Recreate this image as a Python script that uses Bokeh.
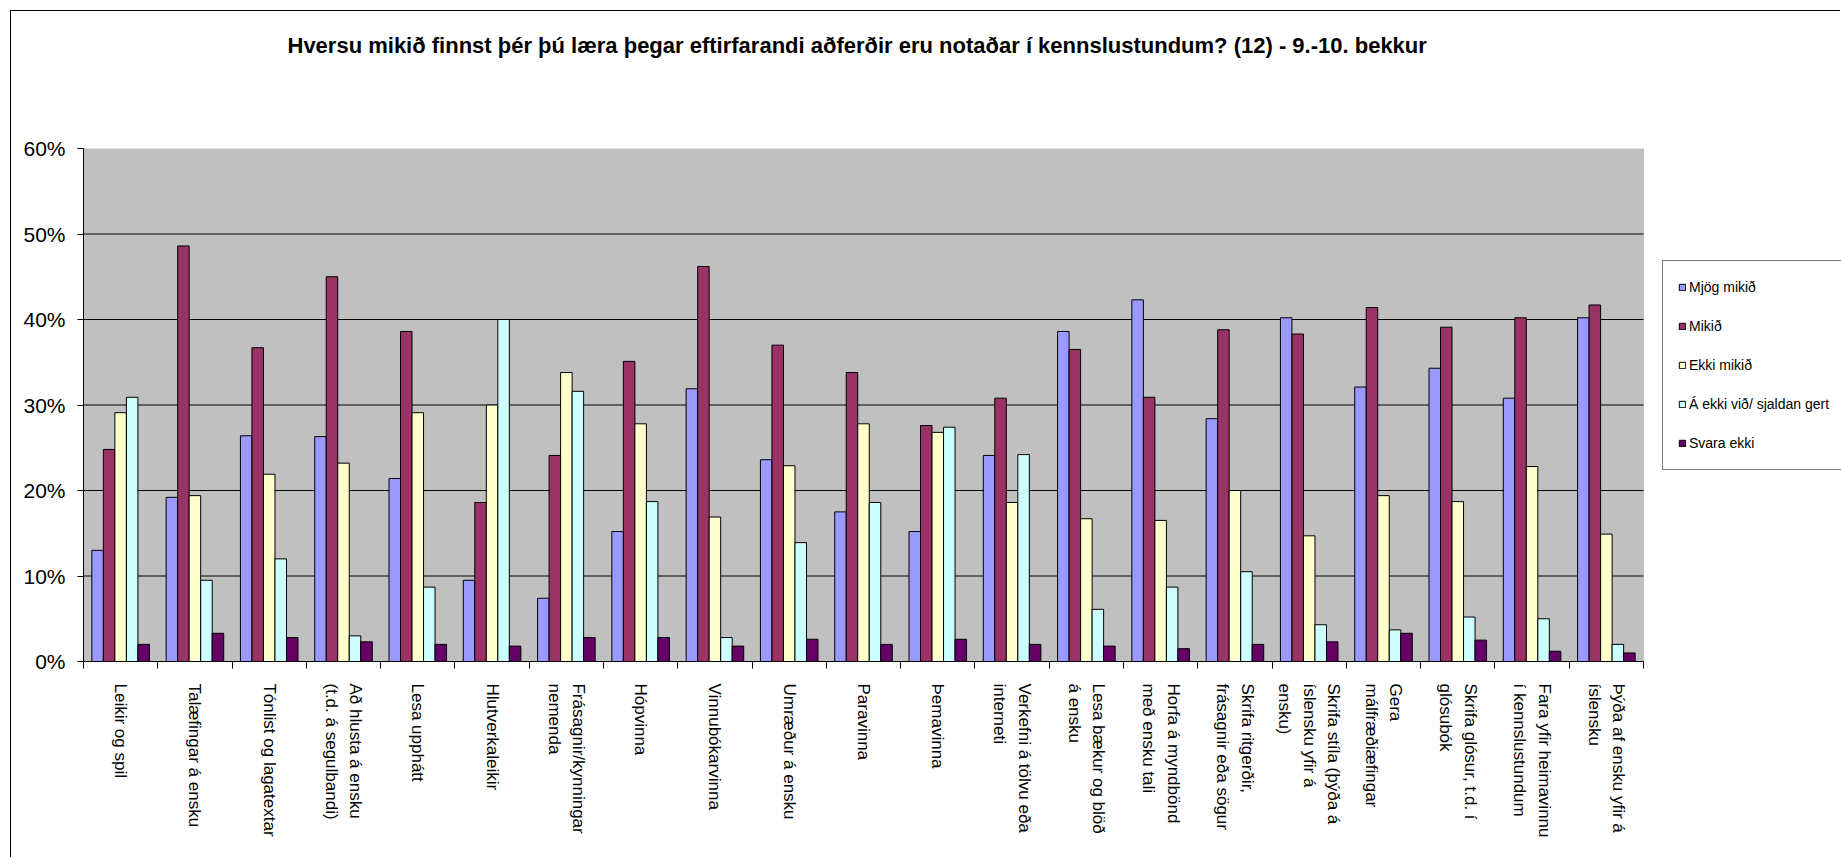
import math
from bokeh.plotting import figure
from bokeh.models import (BoxAnnotation, ColumnDataSource, FixedTicker, Legend,
                          LegendItem, PrintfTickFormatter, Range1d, Title)
from bokeh.transform import dodge
from bokeh.embed import file_html
from bokeh.resources import INLINE

categories = [
    "Leikir og spil",
    "Talæfingar á ensku",
    "Tónlist og lagatextar",
    "Að hlusta á ensku\n(t.d. á segulbandi)",
    "Lesa upphátt",
    "Hlutverkaleikir",
    "Frásagnir/kynningar\nnemenda",
    "Hópvinna",
    "Vinnubókarvinna",
    "Umræður á ensku",
    "Paravinna",
    "Þemavinna",
    "Verkefni á tölvu eða\ninterneti",
    "Lesa bækur og blöð\ná ensku",
    "Horfa á myndbönd\nmeð ensku tali",
    "Skrifa ritgerðir,\nfrásagnir eða sögur",
    "Skrifa stíla (þýða á\níslensku yfir á\nensku)",
    "Gera\nmálfræðiæfingar",
    "Skrifa glósur, t.d. í\nglósubók",
    "Fara yfir heimavinnu\ní kennslustundum",
    "Þýða af ensku yfir á\níslensku",
]

series_names = ["Mjög mikið", "Mikið", "Ekki mikið", "Á ekki við/ sjaldan gert", "Svara ekki"]

mjog_mikid = [13.0, 19.2, 26.4, 26.3, 21.4, 9.5, 7.4, 15.2, 31.9, 23.6, 17.5,
              15.2, 24.1, 38.6, 42.3, 28.4, 40.2, 32.1, 34.3, 30.8, 40.2]
mikid = [24.8, 48.6, 36.7, 45.0, 38.6, 18.6, 24.1, 35.1, 46.2, 37.0, 33.8,
         27.6, 30.8, 36.5, 30.9, 38.8, 38.3, 41.4, 39.1, 40.2, 41.7]
ekki_mikid = [29.1, 19.4, 21.9, 23.2, 29.1, 30.0, 33.8, 27.8, 16.9, 22.9, 27.8,
              26.8, 18.6, 16.7, 16.5, 20.0, 14.7, 19.4, 18.7, 22.8, 14.9]
a_ekki_vid = [30.9, 9.5, 12.0, 3.0, 8.7, 40.0, 31.6, 18.7, 2.8, 13.9, 18.6,
              27.4, 24.2, 6.1, 8.7, 10.5, 4.3, 3.7, 5.2, 5.0, 2.0]
svara_ekki = [2.0, 3.3, 2.8, 2.3, 2.0, 1.8, 2.8, 2.8, 1.8, 2.6, 2.0,
              2.6, 2.0, 1.8, 1.5, 2.0, 2.3, 3.3, 2.5, 1.2, 1.0]

y_ticks = [0, 10, 20, 30, 40, 50, 60]

colors = ["#9999FF", "#993366", "#FFFFCC", "#CCFFFF", "#660066"]

n = len(categories)
y_max = y_ticks[-1]
centers = [i + 0.5 for i in range(n)]
source = ColumnDataSource(data=dict(
    x=centers,
    s0=mjog_mikid, s1=mikid, s2=ekki_mikid, s3=a_ekki_vid, s4=svara_ekki,
))

# frame is widened to the right so the legend can sit inside it;
# the grey plot area only covers the categories (1560 px of a 1758 px frame)
x_end = n * 1758 / 1560

p = figure(width=1830, height=847, output_backend="svg", toolbar_location=None,
           x_range=Range1d(0, x_end), y_range=Range1d(0, y_max),
           min_border_left=72, min_border_right=0, min_border_top=137,
           min_border_bottom=197)
p.styles = {"border-left": "1px solid black", "border-top": "1px solid black",
            "margin-left": "10px", "margin-top": "10px"}

p.title.text = "Hversu mikið finnst þér þú læra þegar eftirfarandi aðferðir eru notaðar í kennslustundum? (12) - 9.-10. bekkur"
p.title.align = "left"
p.title.offset = 204
p.title.text_font = "Liberation Sans"
p.title.text_font_style = "bold"
p.title.text_font_size = "22px"
p.title.text_color = "black"
p.title.standoff = 32

spacer = Title(text=" ", text_font_size="10px", standoff=62)
p.add_layout(spacer, "above")

p.background_fill_color = "white"
p.border_fill_color = "white"
p.outline_line_color = None

plot_area = BoxAnnotation(left=0, right=n, bottom=0, top=y_max,
                          fill_color="#C0C0C0", fill_alpha=1,
                          line_color="#808080", line_width=1, level="underlay")
p.add_layout(plot_area)

grid_y = y_ticks[1:-1]
p.segment(x0=[0] * len(grid_y), x1=[n] * len(grid_y), y0=grid_y, y1=grid_y,
          line_color="black", line_width=1)

bar_w = 0.155
renderers = []
for j in range(5):
    r = p.vbar(x=dodge("x", (j - 2) * bar_w, range=p.x_range), top="s%d" % j,
               width=bar_w, bottom=0, source=source,
               fill_color=colors[j], line_color="black", line_width=1)
    renderers.append(r)

p.xgrid.visible = False
p.ygrid.visible = False

yax = p.yaxis[0]
yax.ticker = FixedTicker(ticks=y_ticks, minor_ticks=[])
yax.formatter = PrintfTickFormatter(format="%d%%")
yax.major_label_text_font = "Liberation Sans"
yax.major_label_text_font_size = "21px"
yax.major_label_text_color = "black"
yax.major_tick_out = 6
yax.major_tick_in = 0
yax.minor_tick_out = 0
yax.axis_line_color = "black"
yax.major_tick_line_color = "black"
yax.major_label_standoff = 12

xax = p.xaxis[0]
xax.bounds = (0, n)
xax.ticker = FixedTicker(ticks=centers, minor_ticks=list(range(n + 1)))
xax.major_label_overrides = {c: lab for c, lab in zip(centers, categories)}
xax.major_label_orientation = -math.pi / 2
xax.major_label_text_font = "Liberation Sans"
xax.major_label_text_font_size = "17px"
xax.major_label_text_color = "black"
xax.major_label_text_line_height = 1.3
xax.major_tick_out = 0
xax.major_tick_in = 0
xax.minor_tick_out = 7
xax.minor_tick_in = 0
xax.minor_tick_line_color = "black"
xax.axis_line_color = "black"
xax.major_label_standoff = 15

legend = Legend(
    items=[LegendItem(label=series_names[j], renderers=[renderers[j]]) for j in range(5)],
    location=(1579, 191),
    margin=0,
    label_text_font="Liberation Sans",
    label_text_font_size="14px",
    label_text_color="black",
    glyph_width=8, glyph_height=8,
    label_height=22, spacing=17, padding=15,
    label_standoff=3,
    border_line_color="black", border_line_width=1,
    background_fill_color="white", background_fill_alpha=1,
)
p.add_layout(legend, "center")

open("out.html", "w").write(file_html(p, INLINE))
